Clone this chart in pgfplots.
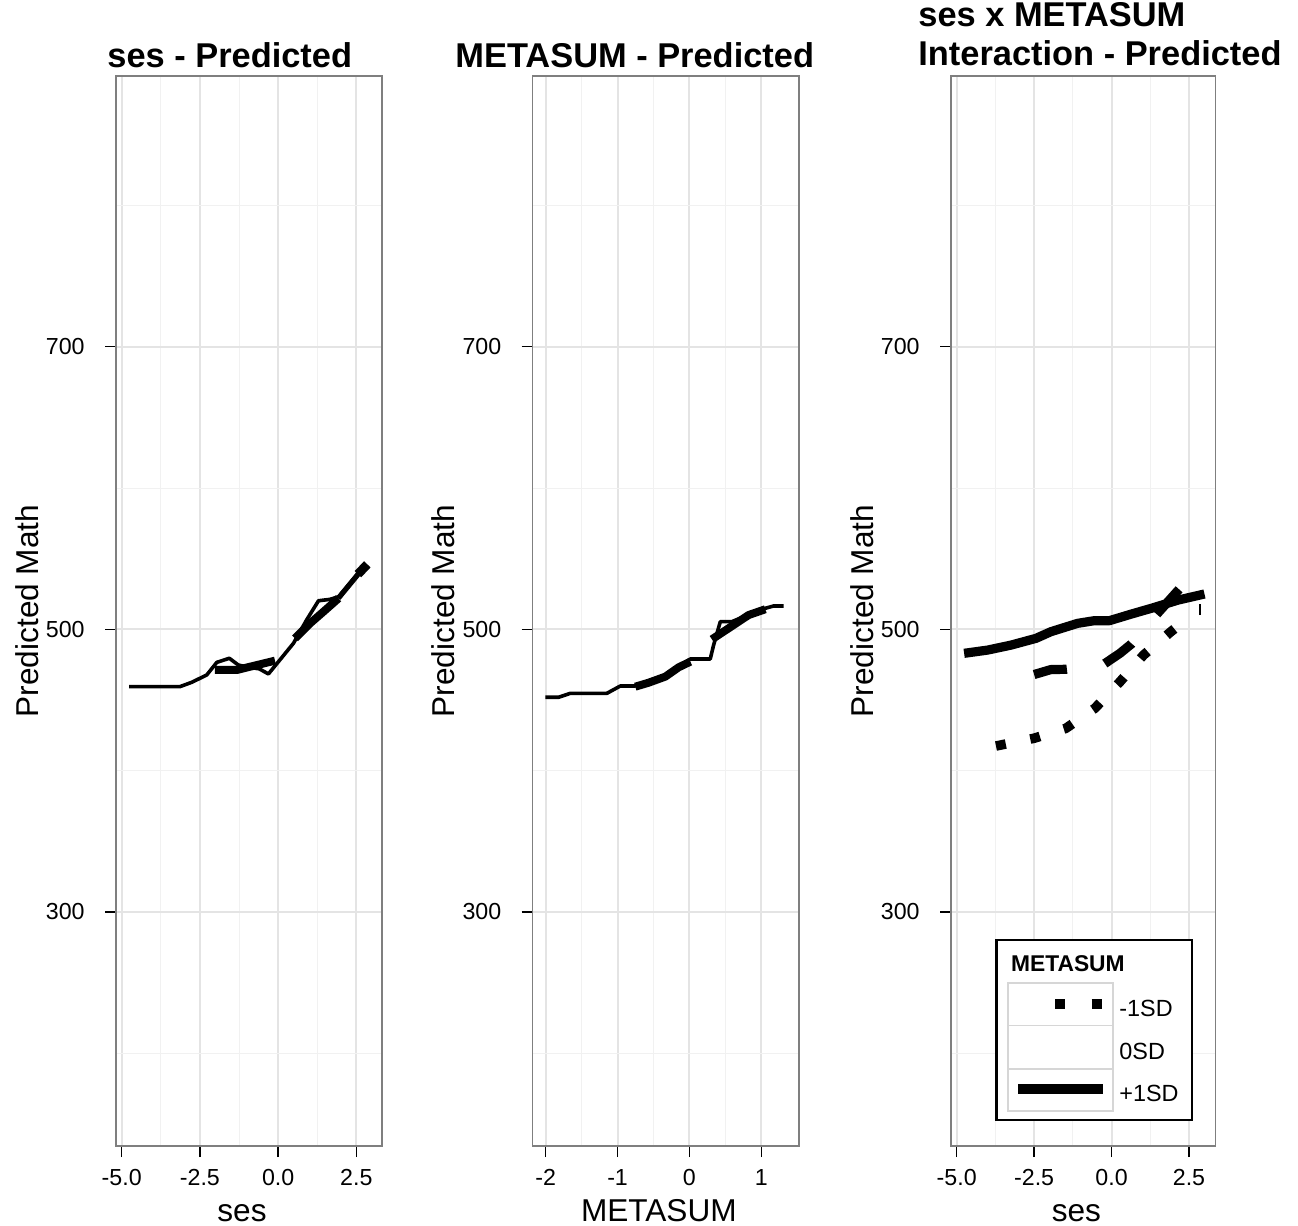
\documentclass[border=0pt]{standalone}
\usepackage{pgfplots}
\pgfplotsset{compat=1.18}
\usepackage{fontspec}
\setmainfont{Liberation Sans}

\definecolor{gridmaj}{HTML}{E4E4E4}
\definecolor{gridmin}{HTML}{F1F1F1}
\definecolor{frame}{HTML}{7F7F7F}
\definecolor{keybox}{HTML}{D6D6D6}

\newcommand\tickfont{\fontsize{11.6}{13}\selectfont}
\newcommand\labfont{\fontsize{15.8}{18}\selectfont}
\newcommand\titfont{\fontsize{17.2}{19}\selectfont\bfseries}

\pgfplotsset{
  panel/.style={
    scale only axis, height=535pt, anchor=south west,
    ymin=134.3, ymax=891.6,
    ytick={300,500,700}, yticklabels={300,500,700},
    minor ytick={200,400,600,800},
    grid=both,
    major grid style={gridmaj, line width=1pt},
    minor grid style={gridmin, line width=0.5pt},
    axis line style={frame, line width=0.75pt},
    tick align=outside,
    major tick length=5.5pt, minor tick length=0pt,
    every tick/.style={black, line width=0.7pt},
    xtick pos=left, ytick pos=left,
    xticklabel style={font=\tickfont, inner sep=0pt, anchor=base, yshift=-14pt},
    yticklabel style={font=\tickfont, inner sep=0pt, anchor=east, xshift=-10pt},
    every axis x label/.style={at={(axis description cs:0.5,0)}, anchor=base,
      yshift=-37.5pt, xshift=-3.5pt, font=\labfont},
    every axis y label/.style={at={(axis description cs:-0.293,0.5)}, rotate=90,
      anchor=base, font=\labfont},
    ylabel={Predicted Math},
    every axis plot/.append style={black, line join=round},
  },
  thin/.style={line width=1.8pt},
  thick/.style={line width=4pt},
}

\begin{document}
\begin{tikzpicture}
\useasboundingbox (0,0) rectangle (649pt,-613pt);

% panel 1: ses
\begin{axis}[panel, at={(58pt,-573pt)}, width=133pt,
  xmin=-5.182, xmax=3.32,
  xtick={-5,-2.5,0,2.5}, xticklabels={-5.0,-2.5,0.0,2.5},
  minor xtick={-3.75,-1.25,1.25},
  xlabel={ses}]
\addplot[thin] coordinates {(-4.76,459.4) (-3.14,459.4) (-2.76,462.5) (-2.28,467.7)
  (-1.96,476.6) (-1.56,479.5) (-1.27,474.7) (-0.9,473) (-0.6,472) (-0.31,468.4)
  (0.49,490.1) (0.91,506.6) (1.29,520.2) (1.66,521.2) (1.93,523.1) (2.3,533) (2.72,544.3)};
\addplot[thick] coordinates {(-2.02,471.2) (-1.32,471.2) (-0.9,473.5) (-0.36,476.4) (-0.1,477.8)};
\addplot[thick] coordinates {(0.54,493.6) (1.02,504.2) (1.45,512.5) (1.93,521.9)};
\addplot[line width=2.5pt] coordinates {(1.93,522) (2.6,540)};
\addplot[line width=4.5pt] coordinates {(2.55,539) (2.85,546)};
\end{axis}

% panel 2: METASUM
\begin{axis}[panel, at={(266.35pt,-573pt)}, width=133.15pt,
  xmin=-2.181, xmax=1.525,
  xtick={-2,-1,0,1}, xticklabels={-2,-1,0,1},
  minor xtick={-1.5,-0.5,0.5},
  xlabel={METASUM}]
\addplot[thin] coordinates {(-2.005,451.9) (-1.82,451.9) (-1.657,454.7) (-1.148,454.7)
  (-0.961,459.9) (-0.753,459.9) (-0.335,466.5) (0.013,479) (0.29,479) (0.337,488.9)
  (0.43,505.4) (0.59,505.4) (1.01,514.2) (1.17,516.5) (1.31,516.5)};
\addplot[thick] coordinates {(-0.753,459.4) (-0.568,462.2) (-0.335,466.5) (-0.15,473.1) (0.013,477.1)};
\addplot[thick] coordinates {(0.313,492.9) (0.545,500.7) (0.824,510.1) (1.056,514.2)};
\end{axis}

% panel 3: interaction
\begin{axis}[panel, at={(475.5pt,-573pt)}, width=132.35pt,
  xmin=-5.184, xmax=3.362,
  xtick={-5,-2.5,0,2.5}, xticklabels={-5.0,-2.5,0.0,2.5},
  minor xtick={-3.75,-1.25,1.25},
  xlabel={ses}]
% +1SD
\addplot[line width=4.6pt] coordinates {(-4.76,483.0) (-4.0,485.3) (-3.25,488.8) (-2.44,493.6)
  (-1.96,498.3) (-1.1,504.2) (-0.56,506.1) (-0.07,506.1) (0.64,510.8) (1.29,514.9)
  (2.15,520.7) (3.0,525.0)};
% 0SD
\addplot[line width=4.6pt, dash pattern=on 16.75pt off 19.3pt] coordinates {(-2.5,468)
  (-1.96,471.5) (-1.47,471.7) (-0.29,474.7) (0.27,483) (0.64,489.6) (1.485,511.3) (2.18,528.3)};
% -1SD
\addplot[line width=4.8pt, dash pattern=on 5pt off 12.5pt] coordinates {(-3.732,417.4)
  (-3.574,418.1) (-2.50,422.9) (-1.476,429.9) (-0.539,444.1) (0.245,462.2) (1.033,481.8)
  (1.915,498.3) (2.3,505)};
\addplot[line width=1pt] coordinates {(2.86,510) (2.86,518)};
\end{axis}

% titles
\node[font=\titfont, anchor=base west, inner sep=0pt] at (53.5pt,-33.9pt) {ses - Predicted};
\node[font=\titfont, anchor=base west, inner sep=0pt] at (227.5pt,-33.9pt) {METASUM - Predicted};
\node[font=\titfont, anchor=base west, inner sep=0pt] at (459pt,-13.35pt) {ses x METASUM};
\node[font=\titfont, anchor=base west, inner sep=0pt] at (459pt,-32.5pt) {Interaction - Predicted};

% legend
\draw[black, line width=1.4pt, fill=white] (498.35pt,-470pt) rectangle (596pt,-560pt);
\node[font=\fontsize{11.4}{13}\selectfont\bfseries, anchor=base west, inner sep=0pt]
  at (505.35pt,-485.85pt) {METASUM};
\draw[keybox, line width=0.6pt, fill=white] (504pt,-491.5pt) rectangle (556.5pt,-512.85pt);
\draw[keybox, line width=0.6pt, fill=white] (504pt,-512.85pt) rectangle (556.5pt,-534.5pt);
\draw[keybox, line width=0.6pt, fill=white] (504pt,-534.5pt) rectangle (556.5pt,-555.5pt);
\draw[black, line width=4.8pt, dash pattern=on 5pt off 13.35pt] (527.5pt,-502pt) -- (550.85pt,-502pt);
\draw[black, line width=4.8pt] (509.15pt,-544.6pt) -- (551.65pt,-544.6pt);
\node[font=\fontsize{11.7}{13}\selectfont, anchor=base west, inner sep=0pt] at (559.5pt,-508.35pt) {-1SD};
\node[font=\fontsize{11.7}{13}\selectfont, anchor=base west, inner sep=0pt] at (559.5pt,-529.5pt) {0SD};
\node[font=\fontsize{11.7}{13}\selectfont, anchor=base west, inner sep=0pt] at (559.5pt,-550.85pt) {+1SD};
\end{tikzpicture}
\end{document}
